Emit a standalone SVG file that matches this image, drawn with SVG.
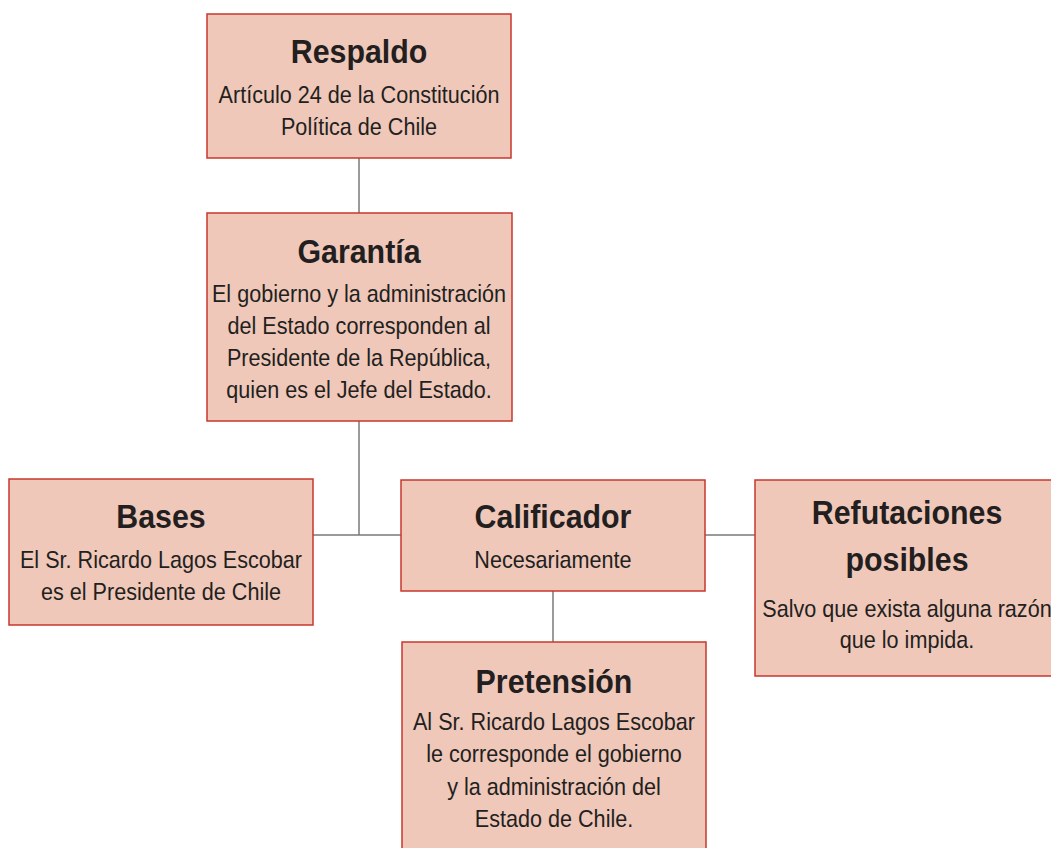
<svg xmlns="http://www.w3.org/2000/svg" width="1051" height="848" viewBox="0 0 1051 848">
<style>
.box{fill:#efc8ba;stroke:#c8372d;stroke-width:1.5}
.t{font-family:"Liberation Sans",Arial,sans-serif;font-weight:bold;font-size:33px;fill:#231f20;text-anchor:middle}
.b{font-family:"Liberation Sans",Arial,sans-serif;font-size:24px;fill:#231f20;text-anchor:middle}
.c{stroke:#7a7a7a;stroke-width:1.5;fill:none}
</style>
<rect width="1051" height="848" fill="#fff"/>
<g id="connectors">
<path class="c" d="M359 158V213M359 421V535M313 535H401M705 535H755M553 591V642"/>
</g>
<g id="respaldo">
<rect class="box" x="207" y="14" width="304" height="144"/>
<g transform="translate(359 0) scale(0.92 1)"><text class="t" x="0" y="63">Respaldo</text></g>
<g transform="translate(359 0) scale(0.9 1)">
<text class="b" x="0" y="103">Artículo 24 de la Constitución</text>
<text class="b" x="0" y="135">Política de Chile</text>
</g>
</g>
<g id="garantia">
<rect class="box" x="207" y="213" width="305" height="208"/>
<g transform="translate(359 0) scale(0.92 1)"><text class="t" x="0" y="263">Garantía</text></g>
<g transform="translate(359 0) scale(0.9 1)">
<text class="b" x="0" y="302">El gobierno y la administración</text>
<text class="b" x="0" y="334">del Estado corresponden al</text>
<text class="b" x="0" y="366">Presidente de la República,</text>
<text class="b" x="0" y="398">quien es el Jefe del Estado.</text>
</g>
</g>
<g id="bases">
<rect class="box" x="9" y="479" width="304" height="146"/>
<g transform="translate(161 0) scale(0.92 1)"><text class="t" x="0" y="528">Bases</text></g>
<g transform="translate(161 0) scale(0.9 1)">
<text class="b" x="0" y="568">El Sr. Ricardo Lagos Escobar</text>
<text class="b" x="0" y="600">es el Presidente de Chile</text>
</g>
</g>
<g id="calificador">
<rect class="box" x="401" y="480" width="304" height="111"/>
<g transform="translate(553 0) scale(0.92 1)"><text class="t" x="0" y="528">Calificador</text></g>
<g transform="translate(553 0) scale(0.9 1)"><text class="b" x="0" y="568">Necesariamente</text></g>
</g>
<g id="refutaciones">
<rect class="box" x="755" y="480" width="304" height="196"/>
<g transform="translate(907 0) scale(0.92 1)">
<text class="t" x="0" y="524">Refutaciones</text>
<text class="t" x="0" y="571">posibles</text>
</g>
<g transform="translate(907 0) scale(0.9 1)">
<text class="b" x="0" y="617">Salvo que exista alguna razón</text>
<text class="b" x="0" y="648">que lo impida.</text>
</g>
</g>
<g id="pretension">
<rect class="box" x="402" y="642" width="304" height="230"/>
<g transform="translate(554 0) scale(0.92 1)"><text class="t" x="0" y="693">Pretensión</text></g>
<g transform="translate(554 0) scale(0.9 1)">
<text class="b" x="0" y="730">Al Sr. Ricardo Lagos Escobar</text>
<text class="b" x="0" y="762">le corresponde el gobierno</text>
<text class="b" x="0" y="795">y la administración del</text>
<text class="b" x="0" y="827">Estado de Chile.</text>
</g>
</g>
</svg>
